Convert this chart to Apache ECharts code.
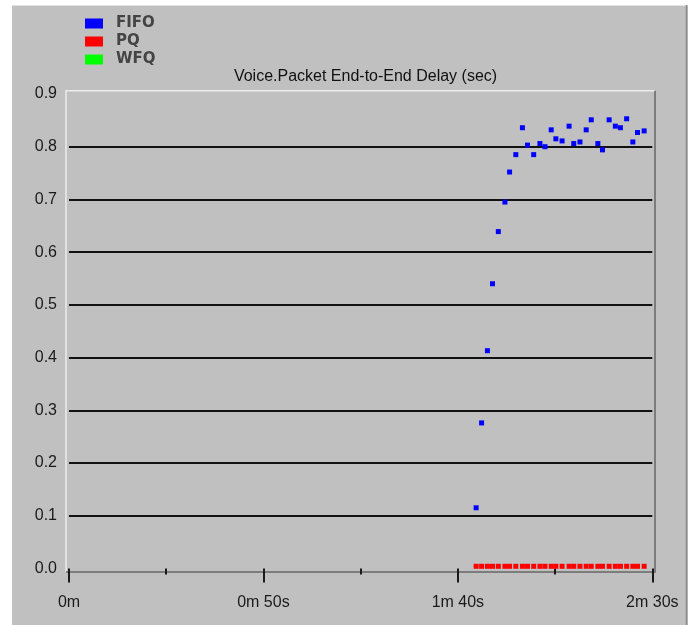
<!DOCTYPE html>
<html>
<head>
<meta charset="utf-8">
<title>Voice.Packet End-to-End Delay (sec)</title>
<script src="https://cdn.jsdelivr.net/npm/echarts@6/dist/echarts.min.js"></script>
<style>
  html, body { margin: 0; padding: 0; background: #fff; }
  #chart { width: 690px; height: 625px; }
</style>
</head>
<body>
<div id="chart"></div>
<script>
// Simulation time of each sample (seconds)
const sampleTimes = [
  104.7, 106.1, 107.6, 108.9, 110.4, 112.1, 113.3, 114.9, 116.6, 117.9,
  119.5, 121.1, 122.4, 124.0, 125.2, 126.8, 128.6, 129.8, 131.4, 133.0,
  134.3, 136.0, 137.2, 138.9, 140.5, 141.8, 143.4, 145.0, 146.2, 147.9
];
// Voice packet end-to-end delay (sec) per queuing scheme
const fifoDelay = [
  0.115, 0.276, 0.413, 0.540, 0.639, 0.695, 0.752, 0.785, 0.836, 0.803,
  0.785, 0.806, 0.800, 0.832, 0.815, 0.811, 0.839, 0.806, 0.809, 0.832,
  0.851, 0.806, 0.794, 0.851, 0.839, 0.836, 0.853, 0.809, 0.827, 0.830
];
const pqDelay = [
  0.004, 0.004, 0.004, 0.004, 0.004, 0.004, 0.004, 0.004, 0.004, 0.004,
  0.004, 0.004, 0.004, 0.004, 0.004, 0.004, 0.004, 0.004, 0.004, 0.004,
  0.004, 0.004, 0.004, 0.004, 0.004, 0.004, 0.004, 0.004, 0.004, 0.004
];
const wfqDelay = [];

const seriesNames = ['FIFO', 'PQ', 'WFQ'];
const seriesColors = ['#0000ff', '#ff0000', '#00ff00'];
const chartTitle = 'Voice.Packet End-to-End Delay (sec)';

function pairs(times, values) {
  return values.map((v, i) => [times[i], v]);
}

function timeLabel(v) {
  const m = Math.floor(v / 60);
  const s = Math.round(v - m * 60);
  return s === 0 ? m + 'm' : m + 'm ' + s + 's';
}

const FONT = '"Liberation Sans", Arial, sans-serif';

// Grid lines only between the first and last tick
const gridColors = ['rgba(0,0,0,0)', '#111', '#111', '#111', '#111', '#111', '#111', '#111', '#111', 'rgba(0,0,0,0)'];

function scatterSeries(idx, values) {
  return {
    name: seriesNames[idx],
    type: 'scatter',
    symbol: 'rect',
    symbolSize: 5,
    itemStyle: { color: seriesColors[idx], opacity: 1 },
    emphasis: { disabled: true },
    data: pairs(sampleTimes, values)
  };
}

const chart = echarts.init(document.getElementById('chart'), null, { renderer: 'canvas' });

chart.setOption({
  animation: false,
  backgroundColor: '#c0c0c0',
  title: {
    text: chartTitle,
    left: 360.5,
    top: 64,
    textAlign: 'center',
    textStyle: { fontFamily: FONT, fontSize: 16, fontWeight: 'normal', color: '#111' }
  },
  legend: {
    orient: 'vertical',
    left: 85,
    top: 16,
    padding: 0,
    itemWidth: 18,
    itemHeight: 10,
    itemGap: 3,
    icon: 'rect',
    selectedMode: false,
    data: seriesNames,
    itemStyle: { opacity: 1 },
    textStyle: {
      fontFamily: '"DejaVu Sans", Verdana, sans-serif',
      fontSize: 15,
      fontWeight: 'bold',
      color: '#444',
      padding: [0, 0, 0, 8],
      lineHeight: 14
    }
  },
  grid: { left: 69, right: 37.7, top: 94, bottom: 56.6, containLabel: false },
  xAxis: {
    type: 'value',
    min: 0,
    max: 150,
    interval: 50,
    offset: 5.6,
    axisLine: { show: false },
    axisTick: { show: true, length: 14, lineStyle: { color: '#1a1a1a', width: 2 } },
    minorTick: { show: true, splitNumber: 2, length: 6, lineStyle: { color: '#1a1a1a', width: 2 } },
    splitLine: { show: false },
    axisLabel: {
      margin: 21,
      fontFamily: FONT,
      fontSize: 16,
      color: '#1a1a1a',
      formatter: timeLabel
    }
  },
  yAxis: {
    type: 'value',
    min: 0,
    max: 0.9,
    interval: 0.1,
    axisLine: { show: false },
    axisTick: { show: false },
    splitLine: { show: true, lineStyle: { color: gridColors, width: 2 } },
    axisLabel: {
      margin: 12,
      fontFamily: FONT,
      fontSize: 16,
      color: '#1a1a1a',
      formatter: v => v.toFixed(1)
    }
  },
  graphic: [
    // white page edges around the panel
    { type: 'rect', shape: { x: 0, y: 0, width: 690, height: 5 }, style: { fill: '#ffffff' }, silent: true },
    { type: 'rect', shape: { x: 0, y: 0, width: 12, height: 625 }, style: { fill: '#ffffff' }, silent: true },
    { type: 'rect', shape: { x: 688, y: 0, width: 2, height: 625 }, style: { fill: '#ffffff' }, silent: true },
    // panel bevel
    { type: 'line', shape: { x1: 12, y1: 5.5, x2: 688, y2: 5.5 }, style: { stroke: '#e2e2e2', lineWidth: 1 }, silent: true },
    { type: 'line', shape: { x1: 686.5, y1: 5, x2: 686.5, y2: 625 }, style: { stroke: '#8a8a8a', lineWidth: 1.5 }, silent: true },
    // sunken plot frame
    { type: 'polyline', shape: { points: [[66, 572], [66, 90.7], [655, 90.7]] }, style: { stroke: '#ececec', lineWidth: 1.5, fill: null }, silent: true },
    { type: 'polyline', shape: { points: [[66, 572], [655, 572], [655, 90.7]] }, style: { stroke: '#7c7c7c', lineWidth: 2, fill: null }, silent: true }
  ],
  series: [
    scatterSeries(2, wfqDelay),
    scatterSeries(1, pqDelay),
    scatterSeries(0, fifoDelay)
  ]
});
</script>
</body>
</html>
